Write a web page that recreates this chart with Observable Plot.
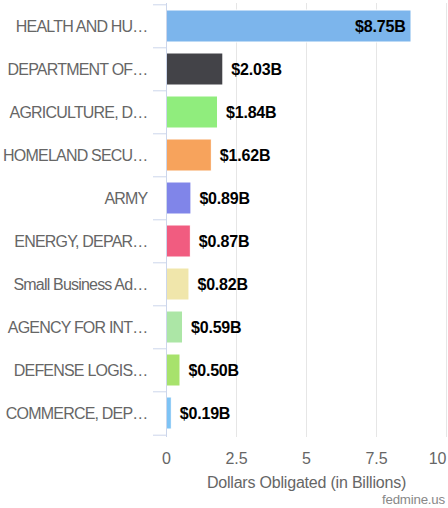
<!DOCTYPE html>
<html>
<head>
<meta charset="utf-8">
<script src="https://cdn.jsdelivr.net/npm/d3@7"></script>
<script src="https://cdn.jsdelivr.net/npm/@observablehq/plot@0.6"></script>
<style>
  html, body { margin: 0; padding: 0; background: #fff; }
  #chart { width: 448px; height: 508px; position: relative; overflow: hidden; }
  .caption { position: absolute; right: 3px; top: 492px; font: 13.3px "Liberation Sans", Arial, sans-serif; color: #888; letter-spacing: -0.2px; }
  #chart g[aria-label="y-axis tick label"] text { letter-spacing: -0.8px; }
  #chart g[aria-label="x-axis label"] text { letter-spacing: -0.2px; }
  #chart g[aria-label="text"] text { letter-spacing: -0.2px; }
</style>
</head>
<body>
<div id="chart"></div>
<script>
const agencies = [
  "HEALTH AND HU…",
  "DEPARTMENT OF…",
  "AGRICULTURE, D…",
  "HOMELAND SECU…",
  "ARMY",
  "ENERGY, DEPAR…",
  "Small Business Ad…",
  "AGENCY FOR INT…",
  "DEFENSE LOGIS…",
  "COMMERCE, DEP…"
];
const obligated = [8.75, 2.03, 1.84, 1.62, 0.89, 0.87, 0.82, 0.59, 0.50, 0.19];
const barColors = ["#7cb5ec", "#434348", "#90ed7d", "#f7a35c", "#8085e9", "#f15c80", "#f0e6ab", "#ace6a6", "#a7e26c", "#7dc3f5"];
const xTicks = [0, 2.5, 5, 7.5, 10];
const xTitle = "Dollars Obligated (in Billions)";
const source = "fedmine.us";

const data = agencies.map((name, i) => ({name, value: obligated[i]}));

const W = 448, H = 495, mT = 3, mB = 58, mL = 166, mR = 2;
const step = (H - mT - mB) / agencies.length;
const fmt = v => `$${v.toFixed(2)}B`;
const font = "'Liberation Sans', Arial, sans-serif";

const chart = Plot.plot({
  width: W, height: H,
  marginTop: mT, marginBottom: mB, marginLeft: mL, marginRight: mR,
  style: {fontFamily: font, background: "#fff", overflow: "visible"},
  x: {domain: [0, 10]},
  y: {domain: agencies, paddingInner: 0.25, paddingOuter: 0.125},
  color: {domain: agencies, range: barColors},
  marks: [
    Plot.gridX(xTicks.slice(1), {stroke: "#e6e6e6", strokeOpacity: 1}),
    Plot.barX(data, {x: "value", y: "name", fill: "name", stroke: "#fff", strokeWidth: 1}),
    Plot.ruleX([0], {stroke: "#ccd6eb"}),
    Plot.axisY({tickSize: 13, text: null, label: null, stroke: "#ccd6eb", dy: -step / 2}),
    Plot.axisY([agencies[agencies.length - 1]], {tickSize: 13, text: null, label: null, stroke: "#ccd6eb", dy: step / 2}),
    Plot.axisY({tickSize: 0, tickPadding: 19, fontSize: 16, fill: "#666", label: null}),
    Plot.axisX(xTicks.slice(0, -1), {tickSize: 0, tickPadding: 15, fontSize: 16, fill: "#666", tickFormat: d => String(d),
      label: xTitle, labelAnchor: "center", labelArrow: "none", labelOffset: 50}),
    Plot.axisX([xTicks[xTicks.length - 1]], {tickSize: 0, tickPadding: 15, fontSize: 16, fill: "#666", tickFormat: d => String(d), textAnchor: "end", label: null}),
    Plot.text(data.filter(d => d.value > 5), {x: "value", y: "name", text: d => fmt(d.value), textAnchor: "end", dx: -6, fontSize: 16, fontWeight: "bold", fill: "#000"}),
    Plot.text(data.filter(d => d.value <= 5), {x: "value", y: "name", text: d => fmt(d.value), textAnchor: "start", dx: 8, fontSize: 16, fontWeight: "bold", fill: "#000"})
  ]
});
document.getElementById("chart").appendChild(chart);
const cap = document.createElement("div");
cap.className = "caption";
cap.textContent = source;
document.getElementById("chart").appendChild(cap);
</script>
</body>
</html>
